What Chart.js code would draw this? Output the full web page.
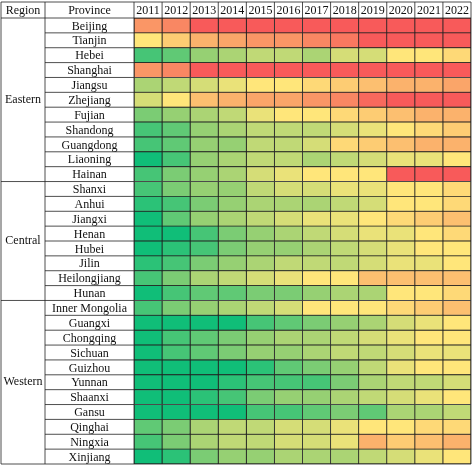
<!DOCTYPE html>
<html>
<head>
<meta charset="utf-8">
<script src="https://cdn.jsdelivr.net/npm/chart.js@4"></script>
<style>
  body { margin: 0; background: #fff; }
  #wrap { width: 474px; height: 467px; }
</style>
</head>
<body>
<div id="wrap"><canvas id="heat"></canvas></div>
<script>
// Table content
const years = ['2011', '2012', '2013', '2014', '2015', '2016', '2017', '2018', '2019', '2020', '2021', '2022'];
const provinces = ['Beijing', 'Tianjin', 'Hebei', 'Shanghai', 'Jiangsu', 'Zhejiang', 'Fujian', 'Shandong', 'Guangdong', 'Liaoning', 'Hainan',
    'Shanxi', 'Anhui', 'Jiangxi', 'Henan', 'Hubei', 'Jilin', 'Heilongjiang', 'Hunan',
    'Inner Mongolia', 'Guangxi', 'Chongqing', 'Sichuan', 'Guizhou', 'Yunnan', 'Shaanxi', 'Gansu', 'Qinghai', 'Ningxia', 'Xinjiang'];
const regions = ['Eastern', 'Central', 'Western'];
const regionSizes = [11, 8, 11];

// colour level per cell, 0 = green, 5 = yellow, 10 = red
const levels = [
    [8, 8.5, 10, 10, 10, 10, 10, 10, 10, 10, 10, 10],
    [5, 6, 7, 7.5, 8, 8, 8.5, 9, 10, 10, 10, 10],
    [1, 1.5, 2.5, 3, 3.5, 3.5, 3, 4, 4, 5, 5, 5.5],
    [8, 8.5, 10, 10, 10, 10, 10, 10, 10, 10, 10, 10],
    [3, 3.5, 4, 4.5, 5, 5, 5.5, 6, 6.5, 7, 7, 7.5],
    [4, 5, 6.5, 7, 7.5, 7.5, 8, 8.5, 9.5, 10, 10, 10],
    [2, 2.5, 3, 3.5, 4.5, 5, 5, 5.5, 6, 6.5, 7, 7],
    [1, 1.5, 2.5, 3, 3.5, 3.5, 3.5, 4, 4.5, 5, 5.5, 6],
    [1, 1.5, 2.5, 2.5, 3.5, 3.5, 4, 5.5, 6, 6.5, 7, 7],
    [0, 1, 2.5, 3, 3.5, 3.5, 3, 3.5, 4, 4.5, 4.5, 5],
    [1, 2, 2.5, 3, 4, 4.5, 5, 5, 5, 10, 10, 10],
    [1, 2, 2.5, 2.5, 3.5, 4, 4, 4.5, 4.5, 5, 5, 5.5],
    [0.5, 1, 2, 2.5, 3, 3, 3, 3.5, 4, 5, 5, 5.5],
    [0, 1.5, 2.5, 3, 3.5, 4, 4.5, 4.5, 5, 5.5, 6, 6.5],
    [0, 0, 1, 2, 2.5, 3, 3.5, 4, 4.5, 4.5, 5, 5.5],
    [0, 0.5, 1, 2, 2.5, 2.5, 3, 3.5, 4, 4.5, 5, 5],
    [0.5, 1, 2, 2.5, 3, 3.5, 3.5, 3.5, 4, 4.5, 4.5, 5],
    [1, 2, 3, 3.5, 4, 4.5, 5, 5, 6.5, 6.5, 6.5, 6.5],
    [0, 1, 1.5, 1.5, 2, 2, 2.5, 3, 3, 5, 5, 5.5],
    [1, 2, 2.5, 3, 3.5, 4, 5, 5, 5, 5.5, 6, 6.5],
    [0, 0, 0, 0, 1, 1.5, 2, 2.5, 3, 4, 4.5, 5],
    [0, 1, 1.5, 2, 2.5, 3, 3, 3.5, 4, 4.5, 5, 5],
    [0, 1, 1.5, 2, 2.5, 2.5, 3, 3.5, 3.5, 4, 4.5, 4.5],
    [0, 0, 0, 0, 0.5, 1.5, 2, 2.5, 3.5, 4.5, 5, 5],
    [0, 0, 0, 0.5, 1, 1, 1, 2, 3, 3.5, 3.5, 4],
    [0, 0, 0.5, 1, 2, 2.5, 2.5, 3, 3.5, 4, 4.5, 5],
    [0, 0, 0, 0, 1, 1, 1.5, 2, 1.5, 3, 3, 3.5],
    [1.5, 2, 3, 3.5, 3.5, 4, 4, 4.5, 5, 5, 5.5, 5.5],
    [1, 2, 3, 3.5, 3.5, 4, 4, 4.5, 7, 6, 6.5, 7],
    [0, 0.5, 2, 2.5, 2.5, 3, 3, 3, 3.5, 4, 4.5, 5]
];

// green -> yellow -> red
function levelColor(v) {
    const stops = [[0, [16, 190, 120]], [2.5, [150, 208, 115]], [5, [255, 230, 122]], [7.5, [250, 165, 105]], [10, [248, 90, 90]]];
    for (let i = 1; i < stops.length; i++) {
        if (v <= stops[i][0]) {
            const a = stops[i - 1], b = stops[i];
            const t = (v - a[0]) / (b[0] - a[0]);
            const c = a[1].map((x, k) => Math.round(x + (b[1][k] - x) * t));
            return `rgb(${c[0]},${c[1]},${c[2]})`;
        }
    }
    return 'rgb(248,90,90)';
}

const datasets = years.map((yr, col) => ({
    label: yr,
    data: provinces.map(() => [col, col + 1]),
    backgroundColor: provinces.map((p, row) => levelColor(levels[row][col])),
    borderColor: '#222',
    borderWidth: 0.8,
    borderSkipped: false,
    barPercentage: 1,
    categoryPercentage: 1,
    grouped: false
}));

const FONT = '12px "Liberation Serif", "DejaVu Serif", serif';

// draws the header row, the region/province columns and the grid lines around them
const tableText = {
    id: 'tableText',
    afterDraw(chart) {
        const ctx = chart.ctx;
        const xs = chart.scales.x, ys = chart.scales.y;
        const area = chart.chartArea;
        const rowH = (area.bottom - area.top) / provinces.length;
        const left = 1, provX = 45, top = 2;
        ctx.save();
        ctx.font = FONT;
        ctx.fillStyle = '#111';
        ctx.textBaseline = 'middle';
        ctx.textAlign = 'center';
        const headY = (top + area.top) / 2 + 1;
        ctx.fillText('Region', (left + provX) / 2, headY);
        ctx.fillText('Province', (provX + area.left) / 2, headY);
        years.forEach((yr, i) => ctx.fillText(yr, xs.getPixelForValue(i + 0.5), headY));
        provinces.forEach((p, i) => ctx.fillText(p, (provX + area.left) / 2, ys.getPixelForValue(i) + 1));

        ctx.strokeStyle = '#222';
        ctx.lineWidth = 0.8;
        ctx.beginPath();
        // outer border and header
        ctx.rect(left, top, area.right - left, area.bottom - top);
        ctx.moveTo(left, area.top); ctx.lineTo(area.right, area.top);
        ctx.moveTo(provX, top); ctx.lineTo(provX, area.bottom);
        ctx.moveTo(area.left, top); ctx.lineTo(area.left, area.bottom);
        for (let i = 1; i < years.length; i++) {
            const x = xs.getPixelForValue(i);
            ctx.moveTo(x, top); ctx.lineTo(x, area.top);
        }
        for (let i = 1; i < provinces.length; i++) {
            const y = area.top + rowH * i;
            ctx.moveTo(provX, y); ctx.lineTo(area.left, y);
        }
        let start = 0;
        regions.forEach((r, k) => {
            const y0 = area.top + rowH * start;
            const y1 = area.top + rowH * (start + regionSizes[k]);
            ctx.fillText(r, (left + provX) / 2, (y0 + y1) / 2);
            if (k > 0) { ctx.moveTo(left, y0); ctx.lineTo(provX, y0); }
            start += regionSizes[k];
        });
        ctx.stroke();
        ctx.restore();
    }
};

new Chart(document.getElementById('heat'), {
    type: 'bar',
    data: { labels: provinces, datasets: datasets },
    options: {
        indexAxis: 'y',
        responsive: true,
        maintainAspectRatio: false,
        animation: false,
        layout: { padding: { left: 134, top: 18, right: 3, bottom: 3 } },
        plugins: { legend: { display: false }, tooltip: { enabled: false } },
        scales: {
            x: { type: 'linear', min: 0, max: 12, display: false },
            y: { display: false }
        }
    },
    plugins: [tableText]
});
</script>
</body>
</html>
